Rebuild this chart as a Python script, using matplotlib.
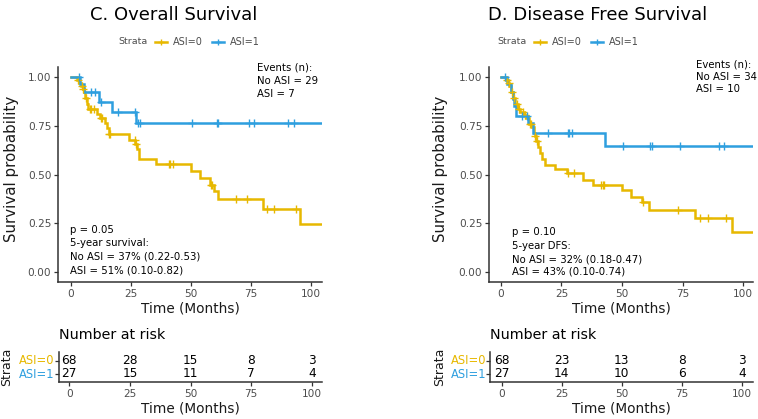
import numpy as np
import matplotlib
matplotlib.use("Agg")
import matplotlib.pyplot as plt

plt.rcParams['font.family'] = ['DejaVu Sans']

YEL = "#E7B800"
BLU = "#2E9FDF"
GRAY = "#4D4D4D"

# ---------------- Data: Overall survival ----------------
os0_t = [0, 2.5, 3.5, 4, 5, 5.5, 6, 6.5, 7, 10.8, 12, 14, 15, 15.8, 24.4, 26.9, 27.6, 28.4,
         35.6, 50, 53.9, 58, 59.8, 61.5, 80.3, 95.5]
os0_s = [1.0, 0.985, 0.97, 0.955, 0.94, 0.925, 0.895, 0.865, 0.835, 0.81, 0.79, 0.766, 0.74, 0.706,
         0.68, 0.655, 0.629, 0.581, 0.555, 0.517, 0.483, 0.448, 0.414, 0.375, 0.325, 0.246]
os0_end = 104.6
os0_cens = [3, 4.5, 5.2, 6.2, 8, 8.5, 9.5, 12.5, 13, 15.9, 16.3, 26.5, 27.2, 40.7, 41.5, 42.5,
            58.5, 59, 68.9, 73.6, 81.8, 84.6, 93.9]

os1_t = [0, 3.6, 5.5, 11.5, 17, 27]
os1_s = [1.0, 0.963, 0.924, 0.875, 0.823, 0.763]
os1_end = 104.6
os1_cens = [3.2, 8.2, 10, 12.6, 19.7, 26.5, 28, 28.8, 50.4, 60.8, 61.5, 74.2, 76.3, 90.6, 93]

# ---------------- Data: Disease free survival ----------------
dfs0_t = [0, 2, 3, 3.5, 4, 5, 6, 7, 8, 9.5, 10.5, 11.5, 13, 13.5, 14, 14.5, 15.5, 16, 17, 18,
          22.3, 27.4, 34, 38.1, 49.8, 53.9, 58.1, 61.2, 80.1, 95.2]
dfs0_s = [1.0, 0.985, 0.97, 0.955, 0.925, 0.895, 0.865, 0.835, 0.82, 0.805, 0.79, 0.76, 0.745,
          0.715, 0.70, 0.67, 0.64, 0.61, 0.58, 0.551, 0.529, 0.508, 0.474, 0.448, 0.422, 0.384,
          0.357, 0.319, 0.276, 0.207]
dfs0_end = 104
dfs0_cens = [2.5, 3.2, 4.5, 5.5, 6.5, 7.5, 9, 10, 12, 12.5, 14.2, 15, 27.8, 30.1, 41.4, 42,
             42.7, 58.5, 73.2, 82.3, 85.3, 93.1]

dfs1_t = [0, 2.6, 4.2, 5, 5.6, 6.3, 11.3, 13.3, 43]
dfs1_s = [1.0, 0.963, 0.926, 0.889, 0.852, 0.80, 0.766, 0.712, 0.646]
dfs1_end = 104
dfs1_cens = [1.5, 8.5, 10.6, 19.6, 27.5, 28.3, 29.3, 50.3, 61.5, 62.2, 73.9, 90.1, 92.2]

# ---------------- Risk tables ----------------
risk_times = [0, 25, 50, 75, 100]
os_risk0 = [68, 28, 15, 8, 3]
os_risk1 = [27, 15, 11, 7, 4]
dfs_risk0 = [68, 23, 13, 8, 3]
dfs_risk1 = [27, 14, 10, 6, 4]
strata_labels = ["ASI=0", "ASI=1"]


def surv_at(ts, ss, t):
    idx = np.searchsorted(np.asarray(ts), t, side='right') - 1
    return np.asarray(ss)[idx]


def draw_curve(ax, ts, ss, end, cens, color):
    t = list(ts) + [end]
    s = list(ss) + [ss[-1]]
    ax.step(t, s, where='post', color=color, lw=1.8, solid_joinstyle='miter', zorder=3)
    cy = [surv_at(ts, ss, c) for c in cens]
    ax.plot(cens, cy, linestyle='none', marker='+', ms=6, mew=1.0, color=color, zorder=4)


def style_axes(ax):
    for sp in ['top', 'right']:
        ax.spines[sp].set_visible(False)
    for sp in ['left', 'bottom']:
        ax.spines[sp].set_linewidth(1.1)
        ax.spines[sp].set_color('#333333')
    ax.tick_params(axis='both', length=3, width=0.9, color='#333333', labelsize=7.6,
                   labelcolor=GRAY, pad=2)


W, H = 758, 419
fig = plt.figure(figsize=(W / 100, H / 100), dpi=100)


def fx(px):
    return px / W


def fy(py):
    return 1 - py / H


panels = [
    dict(ax_l=58.3, ax_r=321.7, xlim=(-5.3, 104.6), c0=(os0_t, os0_s, os0_end, os0_cens),
         c1=(os1_t, os1_s, os1_end, os1_cens), title="C. Overall Survival", title_x=174,
         leg_x=118, ylab_x=12, ev_x=256.7, ev=["Events (n):", "No ASI = 29", "ASI = 7"],
         ev_y=[67.3, 80.7, 94], pt_x=70,
         pt=["p = 0.05", "5-year survival:", "No ASI = 37% (0.22-0.53)", "ASI = 51% (0.10-0.82)"],
         pt_y=[230, 243.3, 256.7, 270.7],
         r_l=59.3, r_r=321.7, r_xlim=(-4.1, 104.1), r0=os_risk0, r1=os_risk1, strata_x=7,
         lab_r=54),
    dict(ax_l=489.3, ax_r=753.3, xlim=(-4.8, 104.2), c0=(dfs0_t, dfs0_s, dfs0_end, dfs0_cens),
         c1=(dfs1_t, dfs1_s, dfs1_end, dfs1_cens), title="D. Disease Free Survival", title_x=598,
         leg_x=497, ylab_x=440, ev_x=696, ev=["Events (n):", "No ASI = 34", "ASI = 10"],
         ev_y=[64, 77.3, 89.3], pt_x=511.7,
         pt=["p = 0.10", "5-year DFS:", "No ASI = 32% (0.18-0.47)", "ASI = 43% (0.10-0.74)"],
         pt_y=[232.3, 246, 259, 271.7],
         r_l=490, r_r=753.3, r_xlim=(-4.9, 104.8), r0=dfs_risk0, r1=dfs_risk1, strata_x=439.3,
         lab_r=486.5),
]

top_px, bot_px = 67.5, 281.7
for p in panels:
    ax = fig.add_axes([fx(p['ax_l']), fy(bot_px), fx(p['ax_r'] - p['ax_l']), (bot_px - top_px) / H])
    draw_curve(ax, *p['c0'], YEL)
    draw_curve(ax, *p['c1'], BLU)
    ax.set_xlim(*p['xlim'])
    ax.set_ylim(-0.05, 1.05)
    ax.set_xticks([0, 25, 50, 75, 100])
    ax.set_yticks([0, 0.25, 0.5, 0.75, 1.0])
    ax.set_yticklabels(["0.00", "0.25", "0.50", "0.75", "1.00"])
    style_axes(ax)
    fig.text(fx((p['ax_l'] + p['ax_r']) / 2), fy(308), "Time (Months)", ha='center', va='center',
             fontsize=9.8, color='#1a1a1a')
    fig.text(fx(p['ylab_x']), fy((top_px + bot_px) / 2 - 6), "Survival probability", rotation=90,
             ha='center', va='center', fontsize=10.8, color='#1a1a1a')
    # title
    fig.text(fx(p['title_x']), fy(14.5), p['title'], ha='center', va='center', fontsize=13,
             color='black')
    # legend
    lx = p['leg_x']
    ly = fy(41.7)
    fig.text(fx(lx), ly, "Strata", ha='left', va='center', fontsize=6.8, color=GRAY)
    for i, (lab, col) in enumerate(zip(strata_labels, [YEL, BLU])):
        x0 = lx + 37 + i * 57
        fig.add_artist(plt.Line2D([fx(x0), fx(x0 + 12)], [ly, ly], color=col, lw=1.8,
                                  transform=fig.transFigure))
        fig.add_artist(plt.Line2D([fx(x0 + 6)], [ly], color=col, marker='+', ms=5, mew=1.0,
                                  transform=fig.transFigure))
        fig.text(fx(x0 + 18), ly, lab, ha='left', va='center', fontsize=7, color=GRAY)
    # annotations
    for s, yy in zip(p['ev'], p['ev_y']):
        fig.text(fx(p['ev_x']), fy(yy), s, ha='left', va='center', fontsize=7.3, color='black')
    for s, yy in zip(p['pt'], p['pt_y']):
        fig.text(fx(p['pt_x']), fy(yy), s, ha='left', va='center', fontsize=7.3, color='black')

    # risk table
    r_top, r_bot = 352, 381.7
    rax = fig.add_axes([fx(p['r_l']), fy(r_bot), fx(p['r_r'] - p['r_l']), (r_bot - r_top) / H])
    rax.set_xlim(*p['r_xlim'])
    rax.set_ylim(0.42, 2.65)
    for t, a, b in zip(risk_times, p['r0'], p['r1']):
        rax.text(t, 2, str(a), ha='center', va='center', fontsize=8.7, color='black')
        rax.text(t, 1, str(b), ha='center', va='center', fontsize=8.7, color='black')
    rax.set_xticks(risk_times)
    rax.set_yticks([2, 1])
    rax.set_yticklabels([])
    style_axes(rax)
    fig.text(fx((p['r_l'] + p['r_r']) / 2), fy(408.3), "Time (Months)", ha='center', va='center',
             fontsize=9.8, color='#1a1a1a')
    for lab, col, yv in zip(strata_labels, [YEL, BLU], [360.7, 374]):
        fig.text(fx(p['lab_r']), fy(yv), lab, ha='right', va='center', fontsize=8.3, color=col)
    fig.text(fx(p['strata_x']), fy(366.7), "Strata", rotation=90, ha='center', va='center',
             fontsize=9, color='#1a1a1a')
    fig.text(fx(p['r_l']), fy(335), "Number at risk", ha='left', va='center', fontsize=10.3,
             color='black')

fig.savefig("out.png", dpi=100)
